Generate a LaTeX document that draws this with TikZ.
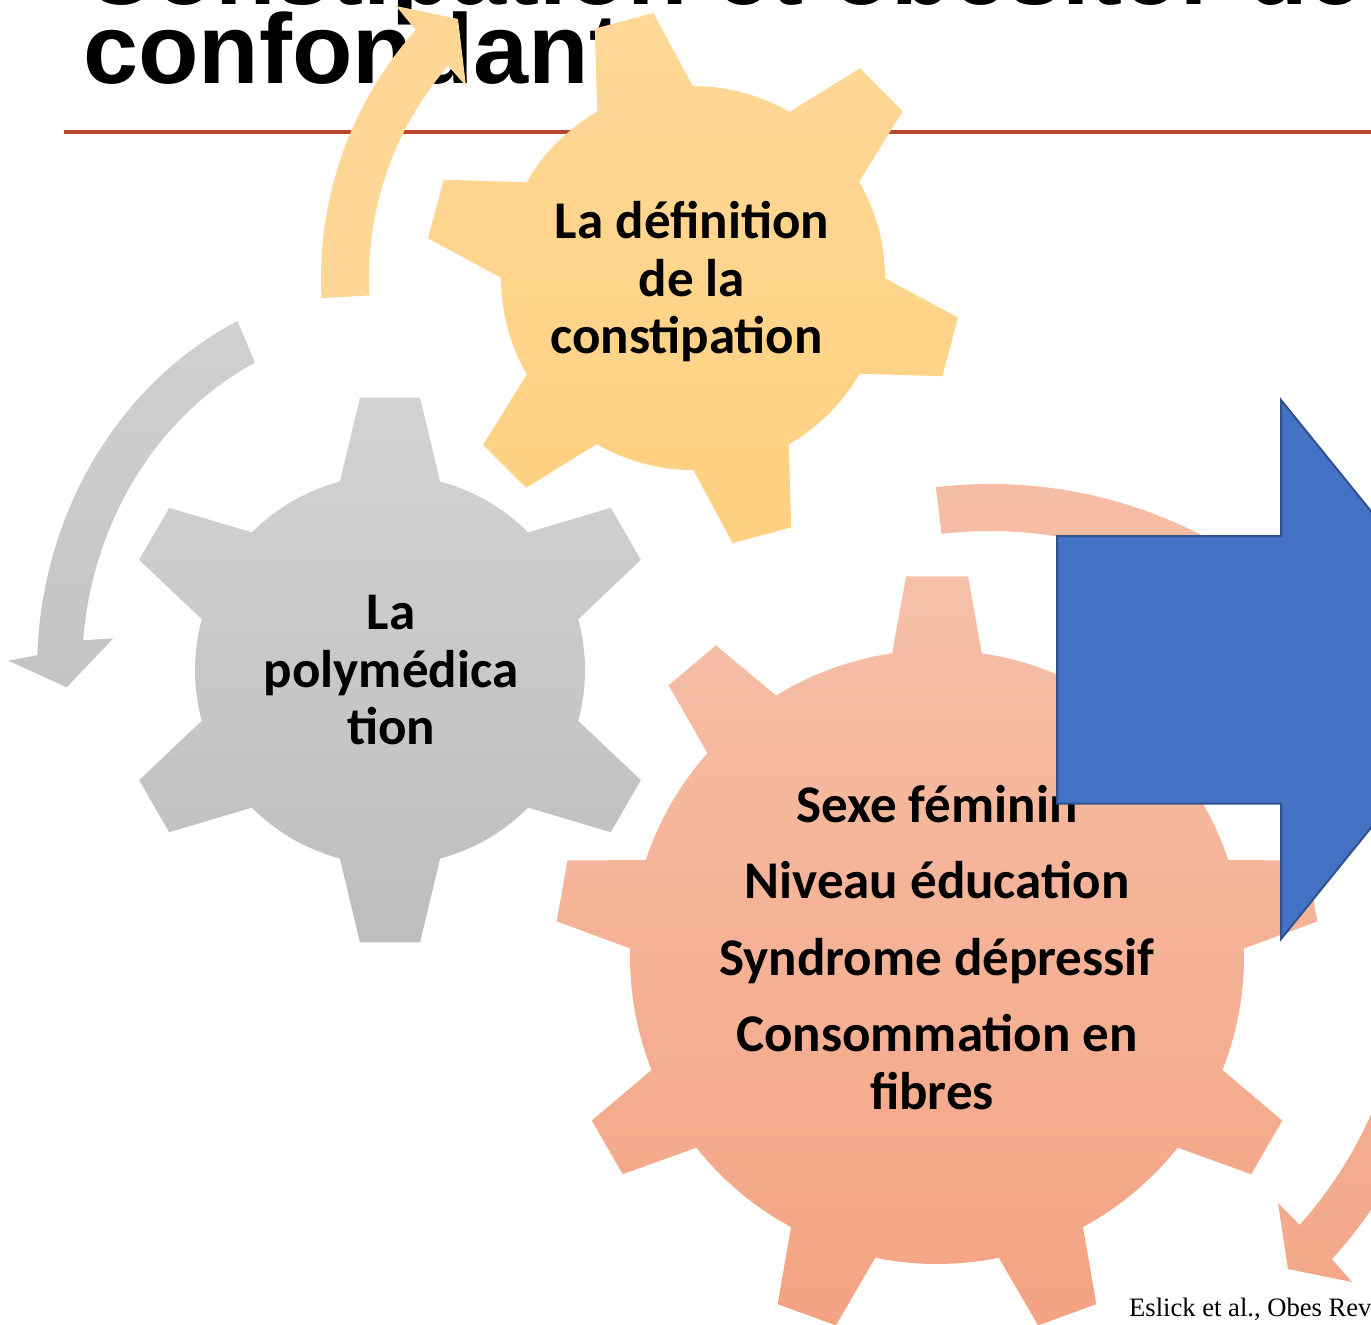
\documentclass[tikz,border=0pt]{standalone}
\usepackage{fontspec}
\newfontfamily\ttlfont{Liberation Sans}
\newfontfamily\gearfont{Carlito}
\newfontfamily\citefont{Liberation Serif}
\definecolor{yTop}{HTML}{FFD898}
\definecolor{yBot}{HTML}{FFD07F}
\definecolor{gTop}{HTML}{D3D3D3}
\definecolor{gBot}{HTML}{BDBDBD}
\definecolor{sTop}{HTML}{F6C0A8}
\definecolor{sBot}{HTML}{F4A383}
\definecolor{yArr}{HTML}{FED797}
\definecolor{gArrTop}{HTML}{D0D0D0}
\definecolor{gArrBot}{HTML}{C4C4C4}
\definecolor{sArrTop}{HTML}{F6BEA6}
\definecolor{sArrBot}{HTML}{F4A88A}
\definecolor{blueFill}{HTML}{4472C4}
\definecolor{blueLine}{HTML}{2F528F}
\definecolor{ruleRed}{HTML}{B7472A}
\tikzset{
  titletext/.style={inner sep=0pt, anchor=base west, font=\ttlfont\bfseries\fontsize{99}{80}\selectfont},
  geartext/.style={inner sep=0pt, align=center, text=black, font=\gearfont\bfseries\fontsize{53}{57.5}\selectfont},
  yellowgear/.style={top color=yTop, bottom color=yBot},
  graygear/.style={top color=gTop, bottom color=gBot},
  salmongear/.style={top color=sTop, bottom color=sBot},
  yellowarrow/.style={top color=yArr, bottom color=yArr},
  grayarrow/.style={top color=gArrTop, bottom color=gArrBot},
  salmonarrow/.style={top color=sArrTop, bottom color=sArrBot},
  bluearrow/.style={fill=blueFill, draw=blueLine, line width=2pt, line join=miter},
}
% #1 centre, #2 teeth, #3 first tooth angle, #4 body radius, #5 tip radius,
% #6 half angle at body, #7 half angle at tip, #8 style
\newcommand{\drawgear}[8]{%
  \begin{scope}[shift={#1}]
    \shade[#8] ({#3-#6}:#4pt)
      \foreach \gi in {1,...,#2}{
        -- ({#3+(\gi-1)*360/#2-#7}:#5pt)
        -- ({#3+(\gi-1)*360/#2+#7}:#5pt)
        -- ({#3+(\gi-1)*360/#2+#6}:#4pt)
        arc[start angle={#3+(\gi-1)*360/#2+#6}, end angle={#3+\gi*360/#2-#6}, radius=#4pt]
      } -- cycle;
  \end{scope}}
\begin{document}
\begin{tikzpicture}[x=1pt,y=1pt]
\useasboundingbox (0,0) rectangle (1371,-1325);
% title
\node[titletext] (title1) at (83,-4.5) {Constipation et obésité: des};
\node[titletext] (title2) at (83,-83) {confondant};
\coordinate (ruleL) at (64,-132);
\coordinate (ruleR) at (1371,-132);
\draw[ruleRed, line width=4.5pt] (ruleL) -- (ruleR);
% circular arrows
\begin{scope}[shift={(693,-278)}]
  \shade[yellowarrow] (183.1:372pt) arc[start angle=183.1, end angle=138.2, radius=372pt]
    -- (-297,272) -- (-235,259) -- (-227,192)
    -- (139.1:324pt) arc[start angle=139.1, end angle=183.1, radius=324pt] -- cycle;
\end{scope}
\begin{scope}[shift={(390,-670)}]
  \shade[grayarrow] (115.6:353pt and 387pt) arc[start angle=115.6, end angle=177.8, x radius=353pt, y radius=387pt]
    -- (-381.7,9.3) -- (-323.3,-17.3) -- (-276.7,31.7)
    -- (175:308pt and 342pt) arc[start angle=175, end angle=116, x radius=308pt, y radius=342pt] -- cycle;
\end{scope}
\begin{scope}[shift={(990,-947)}]
  \shade[salmonarrow] (96.7:463pt) arc[start angle=96.7, end angle=-42.4, radius=463pt]
    -- (362,-335) -- (298,-322) -- (288,-256)
    -- (-41.9:416pt) arc[start angle=-41.9, end angle=96.7, radius=416pt] -- cycle;
\end{scope}
% gears
\drawgear{(693,-278)}{6}{45}{192}{268}{14.9}{6.5}{yellowgear}
\drawgear{(390,-670)}{6}{90}{195}{274}{14.9}{6.3}{graygear}
\drawgear{(937,-957)}{9}{90}{307}{382}{8.4}{4.65}{salmongear}
% gear texts
\node[geartext] (deftext) at (692,-282) {La définition\\de la\\constipation\hspace*{11pt}};
\node[geartext] (polytext) at (391,-670.5) {La\\polymédica\\tion};
\node[geartext] (factext) at (937,-947.5) {Sexe féminin\\[19pt]Niveau éducation\\[19pt]Syndrome dépressif\\[19pt]Consommation en\\fibres\hspace*{10pt}};
% block arrow
\draw[bluearrow] (1057,-536) -- (1281,-536) -- (1281,-400) -- (1499,-669.5) -- (1281,-939) -- (1281,-803.5) -- (1057,-803.5) -- cycle;
% citation
\node[inner sep=0pt, anchor=base west, font=\citefont\fontsize{26.6}{30}\selectfont] (cite) at (1129,-1316) {Eslick et al., Obes Rev};
\end{tikzpicture}
\end{document}
